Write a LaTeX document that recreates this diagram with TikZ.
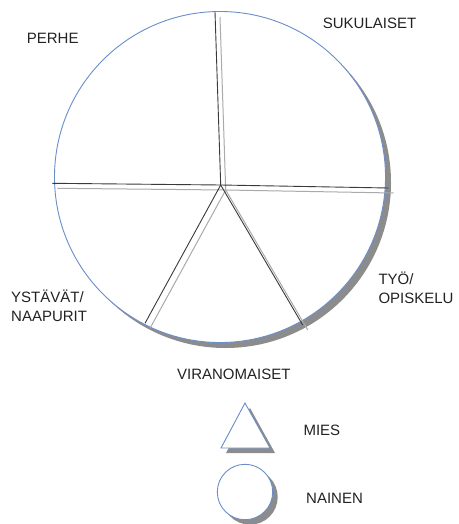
\documentclass[tikz,border=0pt]{standalone}
\usepackage{fontspec}
\setmainfont{Liberation Sans}
\definecolor{rim}{HTML}{6A8ECB}
\definecolor{shade}{HTML}{8C8C8C}
\definecolor{spoke}{HTML}{3A3A3A}
\definecolor{spokeshadow}{HTML}{AAAAAA}
\definecolor{ink}{HTML}{222222}
\begin{document}
\begin{tikzpicture}[x=1pt,y=-1pt,
  lbl/.style={font=\fontsize{15}{19}\selectfont, text=ink, inner sep=0pt, align=left},
  rimshape/.style={draw=rim, line width=0.9pt, fill=white},
  shadowshape/.style={fill=shade, draw=none},
  spokeline/.style={draw=spoke, line width=0.9pt},
  spokeshade/.style={draw=spokeshadow, line width=1pt}]
\useasboundingbox (0,0) rectangle (458,524);
% big circle
\fill[shadowshape] (225.5,182.5) circle (165.5);
\draw[rimshape] (220,177) circle (165.5);
% spoke coordinates
\coordinate (c) at (220.7,185);
\coordinate (top) at (215,12);
\coordinate (left) at (52.3,183.3);
\coordinate (right) at (388.5,188);
\coordinate (ll) at (145,323.3);
\coordinate (lr) at (302.7,325);
% spoke shadows
\tikzset{sh/.style={shift={(5,5)}}}
\draw[spokeshade] ([sh]c) -- ([sh]top);
\draw[spokeshade] ([sh]left) -- ([sh]c) -- ([sh]right);
\draw[spokeshade] ([sh]c) -- ([sh]ll);
\draw[spokeshade] ([sh]c) -- ([sh]lr);
% spokes
\draw[spokeline] (c) -- (top);
\draw[spokeline] (left) -- (c) -- (right);
\draw[spokeline] (c) -- (ll);
\draw[spokeline] (c) -- (lr);
% labels
\node[lbl, anchor=base west] (perhe) at (26.7,44) {PERHE};
\node[lbl, anchor=base west] (suku) at (322.7,28.3) {SUKULAISET};
\node[lbl, anchor=base west] (tyo) at (378.3,303.5) {TYÖ/\\OPISKELU};
\node[lbl, anchor=base west] (ystavat) at (11,321.7) {YSTÄVÄT/\\NAAPURIT};
\node[lbl, anchor=base east] (viran) at (290.7,379) {VIRANOMAISET};
% legend
\fill[shadowshape] (250,408) -- (275,453) -- (226,453) -- cycle;
\draw[rimshape] (245,403) -- (270,448) -- (221,448) -- cycle;
\fill[shadowshape] (250,497) circle (27.7);
\draw[rimshape] (245,492) circle (27.7);
\node[lbl, anchor=base west] (mies) at (303.3,435.7) {MIES};
\node[lbl, anchor=base west] (nainen) at (306,503.3) {NAINEN};
\end{tikzpicture}
\end{document}
